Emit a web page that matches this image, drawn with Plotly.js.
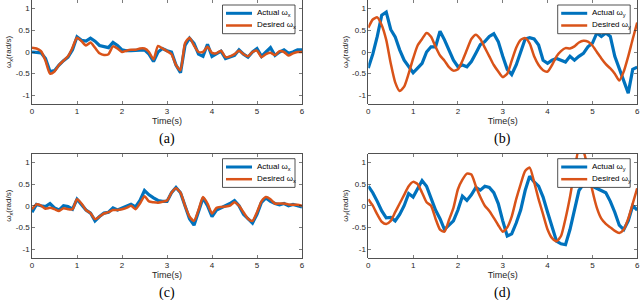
<!DOCTYPE html>
<html>
<head>
<meta charset="utf-8">
<script src="https://cdn.plot.ly/plotly-3.0.1.min.js"></script>
<style>html,body{margin:0;padding:0;background:#fff;}#chart{width:640px;height:300px;}</style>
</head>
<body>
<div id="chart"></div>
<script>
// Time samples (s)
const time = [0.0,0.1,0.2,0.3,0.4,0.5,0.6,0.7,0.8,0.9,
  1.0,1.1,1.2,1.3,1.4,1.5,1.6,1.7,1.8,1.9,
  2.0,2.1,2.2,2.3,2.4,2.5,2.6,2.7,2.8,2.9,
  3.0,3.1,3.2,3.3,3.4,3.5,3.6,3.7,3.8,3.9,
  4.0,4.1,4.2,4.3,4.4,4.5,4.6,4.7,4.8,4.9,
  5.0,5.1,5.2,5.3,5.4,5.5,5.6,5.7,5.8,5.9,6.0];

// (a) omega_x
const aActual = [0.0,-0.01,-0.02,-0.15,-0.45,-0.43,-0.3,-0.2,-0.12,0.05,
  0.35,0.27,0.25,0.32,0.25,0.15,0.12,0.1,0.22,0.15,
  0.05,0.03,0.03,0.04,0.05,0.05,-0.05,-0.22,0.0,0.08,
  0.03,0.0,-0.3,-0.48,0.15,0.32,0.2,-0.05,-0.1,0.18,
  -0.1,-0.03,0.02,-0.15,-0.12,-0.08,0.05,-0.05,-0.12,0.0,
  0.08,-0.1,0.0,0.1,-0.08,0.0,0.05,-0.03,0.0,0.05,0.05];
const aDesired = [0.1,0.08,0.02,-0.2,-0.5,-0.45,-0.3,-0.2,-0.1,0.1,
  0.33,0.25,0.15,0.22,0.1,-0.03,-0.07,-0.05,0.13,0.08,
  0.0,0.03,0.05,0.05,0.08,0.08,0.0,-0.17,0.14,0.08,
  0.02,-0.05,-0.3,-0.42,0.2,0.33,0.15,0.0,0.0,0.12,
  -0.02,-0.03,0.03,-0.12,-0.1,-0.05,0.03,-0.05,-0.1,0.0,
  0.03,-0.12,-0.05,-0.02,-0.07,0.02,0.0,-0.08,-0.03,0.0,0.0];

// (b) omega_y
const bActual = [-0.37,-0.05,0.36,0.85,0.92,0.52,0.35,0.05,-0.19,-0.34,
  -0.48,-0.37,-0.26,0.0,0.12,0.12,0.48,0.28,0.05,-0.19,
  -0.34,-0.3,-0.34,-0.22,-0.03,0.17,0.24,0.36,0.42,0.24,
  -0.1,-0.4,-0.52,-0.3,0.0,0.3,0.33,0.3,0.16,-0.19,
  -0.26,-0.19,-0.15,-0.2,-0.23,-0.1,-0.19,-0.1,-0.03,0.12,
  0.2,0.44,0.36,0.44,0.36,-0.1,-0.4,-0.7,-0.95,-0.4,-0.35];
const bDesired = [0.56,0.75,0.8,0.62,0.28,-0.26,-0.7,-0.9,-0.8,-0.5,
  -0.15,0.15,0.3,0.44,0.35,0.12,-0.08,-0.2,-0.35,-0.43,
  -0.4,-0.2,0.05,0.3,0.4,0.3,0.1,-0.1,-0.3,-0.45,
  -0.58,-0.5,-0.2,0.1,0.28,0.32,0.2,-0.1,-0.3,-0.42,
  -0.45,-0.3,-0.1,0.02,0.09,0.08,0.13,0.22,0.26,0.24,
  0.15,0.0,-0.15,-0.28,-0.38,-0.5,-0.66,-0.45,-0.1,0.3,0.68];

// (c) omega_x
const cActual = [-0.15,0.03,0.0,-0.02,0.05,-0.05,-0.1,0.0,-0.02,-0.08,
  0.15,0.02,-0.1,-0.17,-0.35,-0.25,-0.17,-0.15,-0.05,-0.1,
  -0.05,0.0,0.03,-0.03,0.12,0.35,0.25,0.18,0.12,0.1,
  0.1,0.3,0.42,0.3,0.0,-0.3,-0.45,-0.15,0.18,0.0,
  -0.25,-0.1,-0.05,0.0,0.05,0.12,0.0,-0.2,-0.3,-0.4,
  -0.2,0.08,0.18,0.1,0.05,0.02,0.05,0.0,0.03,0.0,-0.03];
const cDesired = [-0.08,0.03,0.0,-0.07,-0.05,-0.08,-0.12,-0.06,-0.08,-0.08,
  0.15,0.05,-0.1,-0.17,-0.31,-0.25,-0.18,-0.15,-0.1,-0.1,
  -0.08,-0.05,0.0,-0.08,0.05,0.22,0.1,0.08,0.07,0.09,
  0.12,0.3,0.4,0.3,0.0,-0.25,-0.35,-0.1,0.2,0.05,
  -0.18,-0.05,-0.03,-0.02,0.0,0.08,0.0,-0.15,-0.3,-0.35,
  -0.15,0.1,0.2,0.15,0.05,0.05,0.05,0.03,0.02,0.02,0.0];

// (d) omega_y
const dActual = [0.45,0.3,0.1,-0.12,-0.28,-0.27,-0.35,-0.2,0.0,0.28,
  0.2,0.38,0.58,0.45,0.15,-0.1,-0.3,-0.55,-0.45,-0.35,
  -0.1,0.22,0.12,0.25,0.42,0.36,0.45,0.42,0.3,0.05,
  -0.35,-0.7,-0.65,-0.4,-0.1,0.35,0.68,0.55,0.45,0.2,
  -0.15,-0.5,-0.82,-0.88,-0.9,-0.55,-0.1,0.35,0.5,0.5,
  0.45,0.4,0.36,0.3,0.1,-0.15,-0.45,-0.55,-0.35,0.0,-0.1];
const dDesired = [0.15,0.0,-0.2,-0.37,-0.42,-0.35,-0.15,0.05,0.25,0.45,
  0.55,0.5,0.3,0.08,0.0,-0.3,-0.55,-0.6,-0.33,-0.05,
  0.38,0.6,0.74,0.72,0.45,0.2,0.0,-0.12,-0.28,-0.45,
  -0.6,-0.5,-0.25,0.15,0.5,0.8,0.88,0.55,0.15,-0.2,
  -0.55,-0.75,-0.82,-0.7,-0.3,0.2,0.8,1.3,1.25,0.85,
  0.35,-0.05,-0.3,-0.42,-0.5,-0.58,-0.63,-0.55,-0.3,0.05,0.4];

const xTicks = [0,1,2,3,4,5,6];
const yTicks = [-1,-0.5,0,0.5,1];
const yTickText = ['-1','-0.5','0','0.5','1'];
const panelLabels = ['(a)','(b)','(c)','(d)'];
const yTitles = ['ω<sub>x</sub>(rad/s)','ω<sub>y</sub>(rad/s)','ω<sub>x</sub>(rad/s)','ω<sub>y</sub>(rad/s)'];
const actualNames = ['Actual ω<sub>x</sub>','Actual ω<sub>y</sub>','Actual ω<sub>x</sub>','Actual ω<sub>y</sub>'];
const desiredNames = ['Desired ω<sub>x</sub>','Desired ω<sub>y</sub>','Desired ω<sub>x</sub>','Desired ω<sub>y</sub>'];

const BLUE = '#0072BD', ORANGE = '#D95319', INK = '#262626';
const W = 640, H = 300;
// plot areas in pixels [left, right, top, bottom]
const boxes = [[32,302,0,104],[368.3,637.2,0,104],[32,302,153.7,257.7],[368.3,637.2,153.7,257.7]];
const actuals = [aActual,bActual,cActual,dActual];
const desireds = [aDesired,bDesired,cDesired,dDesired];

const data = [];
const layout = {width:W, height:H, margin:{l:0,r:0,t:0,b:0},
  showlegend:false, shapes:[], annotations:[], font:{family:'Liberation Sans, Arial, sans-serif', color:INK, size:8}};

const px = v => v/W, py = v => 1 - v/H;

for (let i=0;i<4;i++){
  const sfx = i===0 ? '' : String(i+1);
  const [L,R,T,B] = boxes[i];
  data.push({x:time, y:actuals[i], xaxis:'x'+sfx, yaxis:'y'+sfx, type:'scatter', mode:'lines',
    name:actualNames[i], line:{color:BLUE, width:3.2}});
  data.push({x:time, y:desireds[i], xaxis:'x'+sfx, yaxis:'y'+sfx, type:'scatter', mode:'lines',
    name:desiredNames[i], line:{color:ORANGE, width:2.5, shape:'spline', smoothing:0.6}});
  layout['xaxis'+sfx] = {domain:[px(L),px(R)], anchor:'y'+sfx, range:[0,6], tickvals:xTicks,
    ticktext:xTicks.map(String), ticks:'inside', ticklen:3, tickwidth:0.6, tickcolor:INK,
    showline:true, linecolor:INK, linewidth:0.8, mirror:'allticks', showgrid:false, zeroline:false,
    ticklabeloverflow:'allow',
    tickfont:{size:8, color:INK}, title:{text:'Time(s)', font:{size:9, color:INK}, standoff:2}, automargin:false};
  layout['yaxis'+sfx] = {domain:[py(B),py(T)], anchor:'x'+sfx, range:[-1.2,1.2], tickvals:yTicks,
    ticktext:yTickText, ticks:'inside', ticklen:3, tickwidth:0.6, tickcolor:INK,
    showline:true, linecolor:INK, linewidth:0.8, mirror:'allticks', showgrid:false, zeroline:false,
    ticklabeloverflow:'allow',
    tickfont:{size:8, color:INK}, title:{text:yTitles[i], font:{size:8, color:INK}, standoff:2}, automargin:false};
  // panel label
  layout.annotations.push({xref:'paper', yref:'paper', x:px((L+R)/2), y:py(B+35), text:panelLabels[i],
    showarrow:false, xanchor:'center', yanchor:'middle', font:{family:'Liberation Serif, Times New Roman, serif', size:14, color:'#000'}});
  // legend box (MATLAB style)
  const lr = R-7, lt = T+5, lw = 72.5, lh = 28.7, ll = lr-lw;
  layout.shapes.push({type:'rect', xref:'paper', yref:'paper', x0:px(ll), x1:px(lr), y0:py(lt+lh), y1:py(lt),
    fillcolor:'#fff', line:{color:INK, width:0.8}, layer:'above'});
  const rows = [lt+8.3, lt+20.5];
  layout.shapes.push({type:'line', xref:'paper', yref:'paper', x0:px(ll+3.5), x1:px(ll+29.5), y0:py(rows[0]), y1:py(rows[0]),
    line:{color:BLUE, width:3}, layer:'above'});
  layout.shapes.push({type:'line', xref:'paper', yref:'paper', x0:px(ll+3.5), x1:px(ll+29.5), y0:py(rows[1]), y1:py(rows[1]),
    line:{color:ORANGE, width:2.5}, layer:'above'});
  layout.annotations.push({xref:'paper', yref:'paper', x:px(ll+32), y:py(rows[0]), text:actualNames[i], showarrow:false,
    xanchor:'left', yanchor:'middle', font:{size:8, color:'#000'}});
  layout.annotations.push({xref:'paper', yref:'paper', x:px(ll+32), y:py(rows[1]), text:desiredNames[i], showarrow:false,
    xanchor:'left', yanchor:'middle', font:{size:8, color:'#000'}});
}

Plotly.newPlot('chart', data, layout, {staticPlot:true, displayModeBar:false}).then(gd => {
  // make sure the end tick label "6" of the right-hand axes stays visible
  ['x2tick','x4tick'].forEach(cls => {
    document.querySelectorAll('.' + cls).forEach(g => {
      g.removeAttribute('clip-path');
      g.style.display = 'block';
      g.style.opacity = '1';
      const t = g.querySelector('text');
      if (t) {
        t.removeAttribute('clip-path');
        t.removeAttribute('display');
        t.style.display = 'block';
        t.style.opacity = '1';
        t.style.visibility = 'visible';
      }
    });
  });
});
</script>
</body>
</html>
